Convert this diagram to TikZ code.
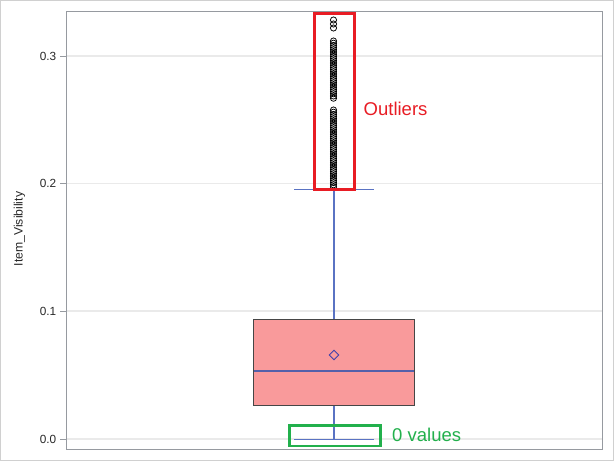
\documentclass[tikz,border=0pt]{standalone}
\usepackage{fontspec}
\setmainfont{Liberation Sans}
\definecolor{outerframe}{RGB}{208,208,208}
\definecolor{plotframe}{RGB}{150,154,160}
\definecolor{gridc}{RGB}{234,234,234}
\definecolor{boxfill}{RGB}{249,154,155}
\definecolor{boxline}{RGB}{70,70,70}
\definecolor{whisk}{RGB}{90,115,195}
\definecolor{medc}{RGB}{84,96,170}
\definecolor{diamc}{RGB}{64,64,170}
\definecolor{annred}{RGB}{232,28,36}
\definecolor{anngreen}{RGB}{34,176,76}
\definecolor{tickc}{RGB}{40,40,40}
\tikzset{
  ticklab/.style={anchor=east,inner sep=0pt,font=\fontsize{11.8}{12}\selectfont,text=tickc},
  gridline/.style={draw=gridc,line width=1.2pt},
  tickmark/.style={draw=plotframe,line width=0.8pt},
  outlier/.style={draw=black,line width=0.75pt},
  whiskline/.style={draw=whisk,line width=1.6pt},
  annbox/.style={line width=2.6pt},
  anntext/.style={anchor=west,inner sep=0pt,font=\fontsize{18.5}{20}\selectfont}
}
\begin{document}
\begin{tikzpicture}[x=1pt,y=-1pt]
\useasboundingbox (0,0) rectangle (614,461);
\fill[white] (0,0) rectangle (614,461);
\draw[outerframe,line width=1.2pt] (0.6,0.6) rectangle (613.4,460.4);
% grid lines
\foreach \yy in {56,183.5,311,439}{
  \draw[gridline] (66,\yy) -- (602,\yy);
  \draw[tickmark] (60,\yy) -- (66,\yy);
}
\node[ticklab] (t3) at (56.5,56) {0.3};
\node[ticklab] (t2) at (56.5,183.5) {0.2};
\node[ticklab] (t1) at (56.5,311) {0.1};
\node[ticklab] (t0) at (56.5,439) {0.0};
\node[rotate=90,inner sep=0pt,font=\fontsize{12.2}{13}\selectfont,text=tickc] (ylab) at (19.5,229) {Item\_Visibility};
% whiskers
\draw[whiskline,line width=1.2pt] (334,189.5) -- (334,319);
\draw[whiskline,line width=1.2pt] (334,405) -- (334,439.5);
\draw[whiskline] (294,189.5) -- (374,189.5);
\draw[whiskline] (294,439.5) -- (374,439.5);
% box
\draw[fill=boxfill,draw=boxline,line width=1pt] (253.5,319) rectangle (414,405);
\draw[medc,line width=1.2pt] (254,371) -- (413.5,371);
\draw[diamc,line width=0.9pt] (334,350.3) -- (338.7,355) -- (334,359.7) -- (329.3,355) -- cycle;
% outliers
\foreach \yy in {20,24,28}{\draw[outlier] (333.5,\yy) circle (3.1);}
\foreach \yy in {41,43.2,...,99}{\draw[outlier] (333.5,\yy) circle (3.1);}
\foreach \yy in {110,112.2,...,188}{\draw[outlier] (333.5,\yy) circle (3.1);}
% plot frame
\draw[plotframe,line width=1pt] (66.5,11.5) rectangle (602,449);
% annotations
\draw[annred,annbox] (314.3,13.3) rectangle (354.7,189.6);
\node[anntext,text=annred] (outl) at (363.5,108.5) {Outliers};
\draw[anngreen,annbox] (289.3,425.3) rectangle (380.2,446);
\node[anntext,text=anngreen] (zero) at (392,434.5) {0 values};
\end{tikzpicture}
\end{document}
